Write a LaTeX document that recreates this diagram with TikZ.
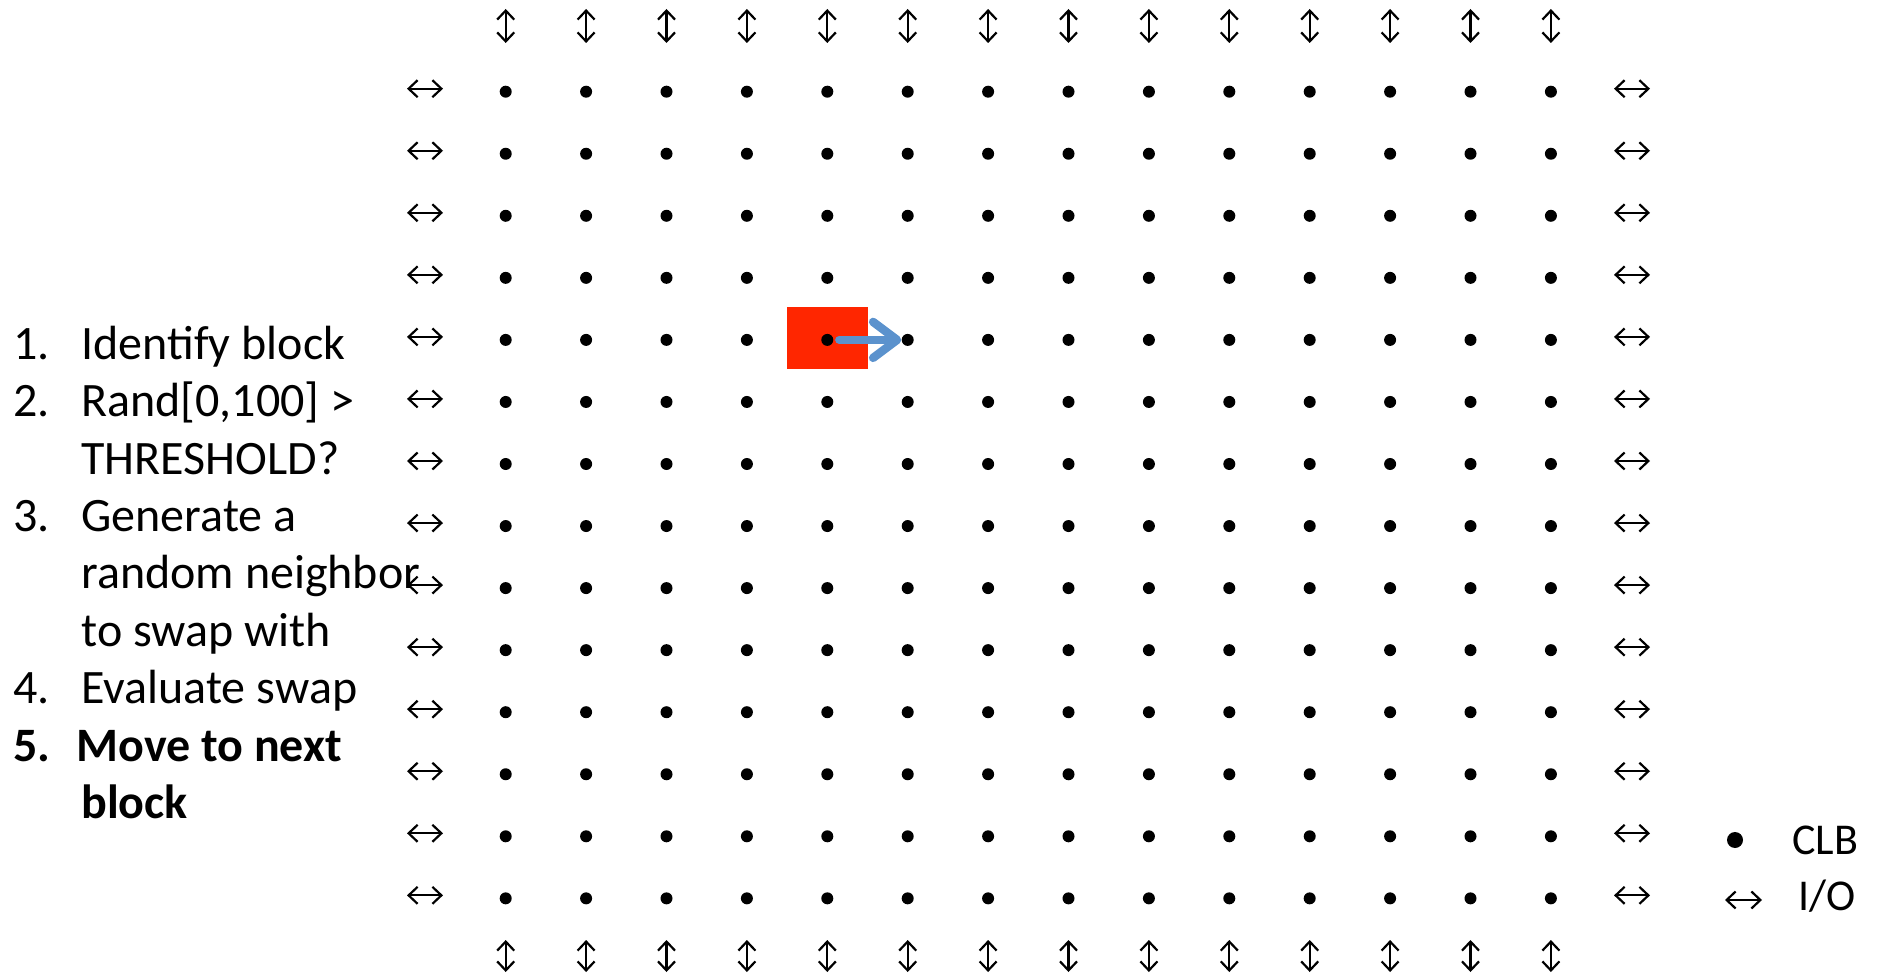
\documentclass[tikz,border=0pt]{standalone}
\usepackage{fontspec}
\setmainfont{Carlito}
\usetikzlibrary{arrows.meta, positioning}

\definecolor{blkred}{RGB}{255,38,0}
\definecolor{swapblue}{RGB}{91,146,205}

\begin{document}
\begin{tikzpicture}[
        x=0.5pt, y=-0.5pt,
        clb/.style={
            circle,
            fill=black,
            inner sep=0pt,
            minimum size=6pt
        },
        ioarr/.style={
            line width=1.1pt,
            {Straight Barb[length=4.5pt, width=8.5pt]}-{Straight Barb[length=4.5pt, width=8.5pt]}
        },
        blk/.style={
            rectangle,
            fill=blkred,
            inner sep=0pt,
            minimum width=40.5pt,
            minimum height=31pt
        },
        swaparrow/.style={
            line width=4.2pt,
            line cap=round,
            draw=swapblue,
            -{Straight Barb[round, length=12pt, width=18pt]}
        },
        steptxt/.style={
            anchor=base west,
            inner sep=0pt,
            font=\fontsize{24}{28}\selectfont
        },
        legtxt/.style={
            anchor=base west,
            inner sep=0pt,
            font=\fontsize{22}{26}\selectfont
        }
        ]

        \useasboundingbox (0,0) rectangle (1879,978);

        % block picked for the move
        \node (blk) [blk] at (827.5,338) {};

        % CLB grid
        \foreach \c in {0,...,13} {
            \foreach \r in {0,...,13} {
                \node (c-\c-\r) [clb] at ({505.7+80.4*\c},{91.7+62.05*\r}) {};
            }
        }

        % I/O pads
        \foreach \r in {0,...,13} {
            \draw [ioarr] (407,{88.7+62.05*\r}) -- (443,{88.7+62.05*\r});
            \draw [ioarr] (1614,{88.7+62.05*\r}) -- (1650,{88.7+62.05*\r});
        }
        \foreach \c in {0,...,13} {
            \draw [ioarr] ({505.7+80.4*\c},9) -- ({505.7+80.4*\c},43);
            \draw [ioarr] ({505.7+80.4*\c},940) -- ({505.7+80.4*\c},972);
        }

        \draw [swaparrow] ([xshift=6pt]c-4-4.center) -- (c-5-4.west);

        % steps
        \node (n1) [steptxt] at (13,359.3) {1.};
        \node (t1) [steptxt] at (81,359.3) {Identify block};
        \node (n2) [steptxt] at (13,416.7) {2.};
        \node (t2) [steptxt] at (81,416.7) {Rand[0,100] >};
        \node (t3) [steptxt] at (81,474.1) {THRESHOLD?};
        \node (n3) [steptxt] at (13,531.5) {3.};
        \node (t4) [steptxt] at (81,531.5) {Generate a};
        \node (t5) [steptxt] at (81,588.9) {random neighbor};
        \node (t6) [steptxt] at (81,646.3) {to swap with};
        \node (n4) [steptxt] at (13,703.7) {4.};
        \node (t7) [steptxt] at (81,703.7) {Evaluate swap};
        \node (n5) [steptxt, font=\fontsize{24}{28}\selectfont\bfseries] at (13,761.1) {5.};
        \node (t8) [steptxt, font=\fontsize{24}{28}\selectfont\bfseries] at (76,761.1) {Move to next};
        \node (t9) [steptxt, font=\fontsize{24}{28}\selectfont\bfseries] at (81,818.5) {block};

        % legend
        \node (lclb) [clb, minimum size=8pt] at (1735,840) {};
        \node (lclbt) [legtxt] at (1792,854) {CLB};
        \draw [ioarr] (1725,900) -- (1762,900);
        \node (liot) [legtxt] at (1798,910) {I/O};

    \end{tikzpicture}
\end{document}
